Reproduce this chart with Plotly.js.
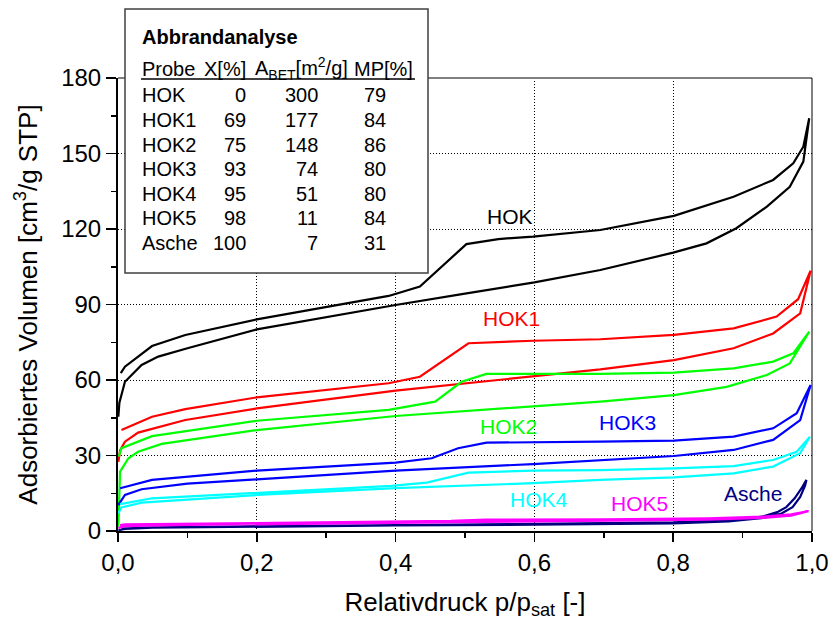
<!DOCTYPE html>
<html>
<head>
<meta charset="utf-8">
<script src="https://cdn.plot.ly/plotly-3.0.1.min.js"></script>
<style>html,body{margin:0;padding:0;background:#fff;}#chart{width:833px;height:621px;}</style>
</head>
<body>
<div id="chart"></div>
<script>
// ---------- DATA ----------
// HOK
const hokAdsX = [0.0005,0.002,0.01,0.034,0.058,0.1,0.2,0.3,0.4,0.5,0.6,0.695,0.8,0.848,0.891,0.935,0.968,0.9875,0.996];
const hokAdsY = [45.4,51,59.3,66,69.3,72.6,80.1,85.1,89.8,94.3,98.8,103.7,110.6,114.3,120.3,128.9,136.8,146.8,164];
const hokDesX = [0.996,0.9875,0.973,0.944,0.887,0.801,0.695,0.598,0.548,0.502,0.435,0.39,0.3,0.2,0.097,0.049,0.01,0.004];
const hokDesY = [164,152.7,146.1,139.5,132.8,125.2,119.6,117,116,114,97.1,93.4,89,84.1,77.9,73.5,65.3,62.7];
// HOK1
const hok1AdsX = [0.0005,0.003,0.01,0.029,0.097,0.2,0.4,0.598,0.695,0.801,0.887,0.944,0.983,0.998];
const hok1AdsY = [27.5,32,35.5,39.1,44.1,48.7,55.8,61.3,64.2,67.9,72.6,78.5,86.5,103.4];
const hok1DesX = [0.998,0.98,0.949,0.887,0.801,0.695,0.598,0.548,0.505,0.435,0.39,0.2,0.097,0.049,0.005];
const hok1DesY = [103.4,92.1,85.2,80.5,77.9,76.2,75.6,75.2,74.6,61.3,58.7,53.1,48.4,45.4,40.1];
// HOK2
const hok2AdsX = [0.0005,0.003,0.015,0.029,0.063,0.2,0.4,0.598,0.695,0.801,0.877,0.935,0.968,0.996];
const hok2AdsY = [1.7,23.6,28.9,31.5,34.6,40.1,45.7,49.4,51.4,54,57.3,62,66.6,79.2];
const hok2DesX = [0.996,0.973,0.944,0.887,0.801,0.695,0.598,0.531,0.495,0.457,0.39,0.2,0.049,0.005,0.001];
const hok2DesY = [79.2,70.6,67.3,64.6,62.9,62.4,62.4,62.4,59.3,51.4,48.1,43.8,37.7,32.9,29.5];
// HOK3
const hok3AdsX = [0.0005,0.01,0.034,0.1,0.2,0.4,0.598,0.695,0.801,0.887,0.944,0.983,0.998];
const hok3AdsY = [10.3,14.3,16.6,18.8,20.5,24,26.6,28.2,29.8,32.2,36.2,44.1,58];
const hok3DesX = [0.998,0.978,0.944,0.887,0.801,0.695,0.598,0.531,0.49,0.452,0.4,0.2,0.049,0.003];
const hok3DesY = [58,46.8,40.8,37.5,35.9,35.5,35.1,35.1,32.9,28.9,27.2,24,20.3,17];
// HOK4
const hok4AdsX = [0.0005,0.005,0.034,0.2,0.4,0.598,0.695,0.801,0.887,0.944,0.983,0.997];
const hok4AdsY = [7,9.4,11.3,14.3,17,19,20.3,21.3,22.9,25.6,30.9,37.5];
const hok4DesX = [0.997,0.978,0.944,0.887,0.801,0.695,0.598,0.505,0.445,0.394,0.2,0.049,0.003];
const hok4DesY = [37.5,31.5,28.2,25.8,24.9,24.2,24,23.2,19.2,17.9,15.2,13,10.7];
// HOK5
const hok5AdsX = [0.0005,0.01,0.1,0.3,0.5,0.7,0.85,0.93,0.97,0.995];
const hok5AdsY = [1.2,1.9,2.4,2.9,3.4,3.9,4.5,5.2,6.1,7.9];
const hok5DesX = [0.995,0.97,0.93,0.85,0.7,0.53,0.48,0.3,0.1,0.01,0.003];
const hok5DesY = [7.9,6.6,5.7,5.0,4.6,4.5,4.0,3.5,3.0,2.6,2.3];
// Asche
const ascheAdsX = [0.0005,0.01,0.05,0.2,0.4,0.6,0.8,0.88,0.93,0.955,0.972,0.983,0.99,0.992];
const ascheAdsY = [0.3,0.8,1.3,1.8,2.2,2.5,3.0,3.8,5.2,6.8,9.5,13.5,18,20.3];
const ascheDesX = [0.992,0.985,0.975,0.963,0.95,0.93,0.9,0.8,0.6,0.4,0.2,0.05,0.005];
const ascheDesY = [20.3,17,13,9.5,7.5,5.8,4.6,3.4,2.8,2.4,2.0,1.5,1.0];

// curve labels
const labelTexts = ['HOK','HOK1','HOK2','HOK3','HOK4','HOK5','Asche'];
const labelX = [0.530,0.5245,0.5202,0.6916,0.5638,0.709,0.872];
const labelY = [124.8,84.6,41.7,43.0,12.6,11.0,15.0];
const colors = ['#000000','#ff0000','#00ff00','#0000ff','#00ffff','#ff00ff','#000080'];

// table
const tableTitle = 'Abbrandanalyse';
const tableHeader = ['Probe','X[%]','A<sub>BET</sub>[m<sup>2</sup>/g]','MP[%]'];
const probeNames = ['HOK','HOK1','HOK2','HOK3','HOK4','HOK5','Asche'];
const xPct = [0,69,75,93,95,98,100];
const aBet = [300,177,148,74,51,11,7];
const mpPct = [79,84,86,80,80,84,31];

// ---------- BUILD ----------
const FONT = 'Liberation Sans, Arial, Helvetica, sans-serif';
const series = [
  [hokAdsX,hokAdsY,hokDesX,hokDesY,0],
  [hok1AdsX,hok1AdsY,hok1DesX,hok1DesY,1],
  [hok2AdsX,hok2AdsY,hok2DesX,hok2DesY,2],
  [hok3AdsX,hok3AdsY,hok3DesX,hok3DesY,3],
  [hok4AdsX,hok4AdsY,hok4DesX,hok4DesY,4],
  [ascheAdsX,ascheAdsY,ascheDesX,ascheDesY,6],
  [hok5AdsX,hok5AdsY,hok5DesX,hok5DesY,5]
];
const traces = series.map(s => ({
  x: s[0].concat(s[2]), y: s[1].concat(s[3]),
  type: 'scatter', mode: 'lines', name: labelTexts[s[4]],
  line: {color: colors[s[4]], width: 2.2}, showlegend: false, hoverinfo: 'skip'
}));

const annotations = [];
labelTexts.forEach((t,i) => annotations.push({
  x: labelX[i], y: labelY[i], xref: 'x', yref: 'y', text: t, showarrow: false,
  xanchor: 'left', yanchor: 'middle', borderpad: 0,
  font: {family: FONT, size: 21, color: colors[i]}
}));

// table layout (paper coords)
const colProbe = 0.0331, colX = 0.1859, colA = 0.2901, colMP = 0.3872;
const rowY0 = 0.9614, rowStep = 0.0543;
function tAnn(x, y, text, anchor, bold) {
  annotations.push({x: x, y: y, xref: 'paper', yref: 'paper', text: bold ? '<b>'+text+'</b>' : text,
    showarrow: false, xanchor: anchor, yanchor: 'middle', borderpad: 0,
    font: {family: FONT, size: 20, color: '#000'}});
}
tAnn(colProbe, 1.0905, tableTitle, 'left', true);
tAnn(colProbe, 1.0199, tableHeader[0], 'left');
tAnn(colX, 1.0199, tableHeader[1], 'right');
tAnn(0.196, 1.0199, tableHeader[2], 'left');
tAnn(0.4265, 1.0199, tableHeader[3], 'right');
probeNames.forEach((p,i) => {
  const y = rowY0 - i*rowStep;
  tAnn(colProbe, y, p, 'left');
  tAnn(colX, y, String(xPct[i]), 'right');
  tAnn(colA, y, String(aBet[i]), 'right');
  tAnn(colMP, y, String(mpPct[i]), 'right');
});

const shapes = [
  {type:'line', xref:'paper', yref:'paper', x0:0, x1:1, y0:1, y1:1, line:{color:'#808080', width:2}},
  {type:'line', xref:'paper', yref:'paper', x0:1, x1:1, y0:0, y1:1, line:{color:'#000', width:1}},
  {type:'rect', xref:'paper', yref:'paper', x0:0.0101, x1:0.4467, y0:0.5695, y1:1.1523,
    fillcolor:'#ffffff', line:{color:'#404040', width:1.5}},
  {type:'line', xref:'paper', yref:'paper', x0:0.0331, x1:0.428, y0:0.9978, y1:0.9978, line:{color:'#000', width:1.5}}
];

const axisCommon = {
  showline: true, linecolor: '#000', linewidth: 2, mirror: false,
  ticks: 'outside', tickcolor: '#000', tickwidth: 1.5,
  showgrid: true, gridcolor: '#000', gridwidth: 1, griddash: '1px,2px',
  zeroline: false, tickfont: {family: FONT, size: 24, color: '#000'}
};

const layout = {
  width: 833, height: 621,
  margin: {l: 118, r: 21, t: 78, b: 90},
  paper_bgcolor: '#fff', plot_bgcolor: '#fff',
  separators: ',.',
  font: {family: FONT, color: '#000'},
  xaxis: Object.assign({}, axisCommon, {
    range: [0, 1], dtick: 0.2, tick0: 0, tickformat: '.1f', ticklen: 9,
    minor: {ticks: 'outside', dtick: 0.1, ticklen: 5, tickcolor: '#000', tickwidth: 1.5, showgrid: false},
    title: {text: 'Relativdruck p/p<sub>sat</sub> [-]', font: {family: FONT, size: 26, color: '#000'}, standoff: 18}
  }),
  yaxis: Object.assign({}, axisCommon, {
    range: [0, 180], dtick: 30, tick0: 0, ticklen: 10,
    minor: {ticks: 'outside', dtick: 15, ticklen: 5, tickcolor: '#000', tickwidth: 1.5, showgrid: false},
    title: {text: 'Adsorbiertes Volumen [cm<sup>3</sup>/g STP]', font: {family: FONT, size: 26, color: '#000'}, standoff: 16}
  }),
  shapes: shapes,
  annotations: annotations
};

Plotly.newPlot('chart', traces, layout, {staticPlot: true, displayModeBar: false});
</script>
</body>
</html>
